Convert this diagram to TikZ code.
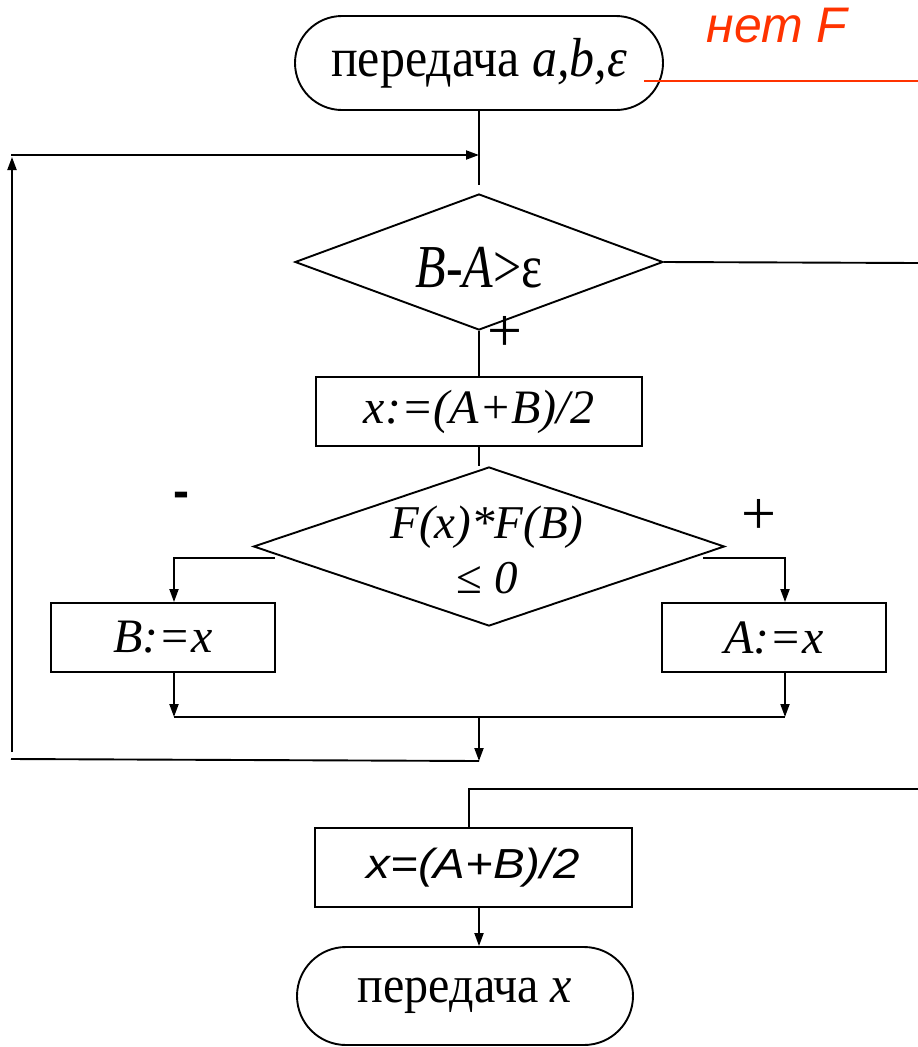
\documentclass[tikz,border=0pt]{standalone}
\usepackage{fontspec}
\setmainfont{Liberation Serif}
\newfontfamily\arialfont{Liberation Sans}
\usepackage{graphicx}
\usetikzlibrary{arrows.meta,shapes.geometric,shapes.misc}
\definecolor{netred}{RGB}{255,51,0}
\begin{document}
\begin{tikzpicture}[x=1pt,y=-1pt, line width=1.9pt,
  >={Triangle[length=13pt,width=9pt]},
  term/.style={draw, rounded rectangle, inner sep=0pt, font=\fontsize{48}{55}\selectfont},
  proc/.style={draw, rectangle, inner sep=0pt, font=\fontsize{48}{55}\selectfont},
  dec/.style={draw, diamond, inner sep=0pt},
  dectext/.style={inner sep=0pt, align=center, font=\fontsize{48}{55}\selectfont},
  lbl/.style={inner sep=0pt, font=\fontsize{62}{62}\selectfont}]
\path[use as bounding box] (0,0) rectangle (918,1047);

% nodes
\node[term, minimum width=368pt, minimum height=94pt, font=\fontsize{50}{55}\selectfont] (start) at (479,63) {\scalebox{1}[1.1]{передача \textit{a,b,ε}}};
\node[inner sep=0pt, text=netred, font=\fontsize{50}{55}\arialfont\itshape] (net) at (777,26) {нет F};
\node[dec, minimum width=368pt, minimum height=136pt] (d1) at (479,262) {};
\node[dectext, font=\fontsize{50}{55}\selectfont] (d1t) at (479,268) {\scalebox{1}[1.22]{\textit{B-A}>ε}};
\node[proc, minimum width=326pt, minimum height=69pt] (p1) at (479,411.5) {\textit{x:=(A+B)/2}};
\node[dec, minimum width=471pt, minimum height=159pt] (d2) at (489,546.5) {};
\node[dectext, font=\fontsize{47}{55}\selectfont] (d2t) at (487,550) {\textit{F(x)*F(B)}\\≤ \textit{0}};
\node[proc, minimum width=224pt, minimum height=69pt] (bx) at (163,637.5) {\textit{B:=x}};
\node[proc, minimum width=224pt, minimum height=69pt] (ax) at (774,637.5) {\textit{A:=x}};
\node[proc, minimum width=317pt, minimum height=79pt, font=\fontsize{42}{48}\arialfont\itshape] (p2) at (473.5,867.5) {\scalebox{1.13}[1]{x=(A+B)/2}};
\node[term, minimum width=336pt, minimum height=98pt] (end) at (465,996) {\scalebox{1}[1.08]{передача \textit{x}}};

\node[lbl] (plus1) at (505,334) {+};
\node[lbl, font=\fontsize{48}{55}\arialfont\bfseries] (minus) at (181,500) {-};
\node[lbl] (plus2) at (759,517) {+};

% coordinates
\coordinate (top1) at (479,185);
\coordinate (loopTL) at (11,155);
\coordinate (loopJ) at (479,155);
\coordinate (loopBL) at (12,752);
\coordinate (loopUp) at (12,157);
\coordinate (botL) at (11,759);
\coordinate (botJ) at (479,761);
\coordinate (merge) at (479,717);
\coordinate (mL) at (174,717);
\coordinate (mR) at (785,717);
\coordinate (d2L) at (275,558);
\coordinate (bL) at (174,558);
\coordinate (d2R) at (703,558);
\coordinate (bR) at (785,558);
\coordinate (exit1) at (918,263);
\coordinate (exit2) at (918,789);
\coordinate (in2) at (469,789);
\coordinate (redL) at (644,81);
\coordinate (redR) at (918,81);

% connectors
\draw (start.south) -- (top1);
\draw[->] (loopTL) -- (loopJ);
\draw[->] (loopBL) -- (loopUp);
\draw (d1.east) -- (exit1);
\draw (d1.south) -- (p1.north);
\draw (p1.south) -- (p1.south |- d2.north);
\draw[->] (d2L) -- (bL) -- (bL |- bx.north);
\draw[->] (d2R) -- (bR) -- (bR |- ax.north);
\draw[->] (mL |- bx.south) -- (mL);
\draw[->] (mR |- ax.south) -- (mR);
\draw (mL) -- (mR);
\draw[->] (merge) -- (botJ);
\draw (botJ) -- (botL);
\draw (exit2) -- (in2) -- (in2 |- p2.north);
\draw[->] (top1 |- p2.south) -- (top1 |- end.north);
\draw[netred] (redL) -- (redR);
\end{tikzpicture}
\end{document}
